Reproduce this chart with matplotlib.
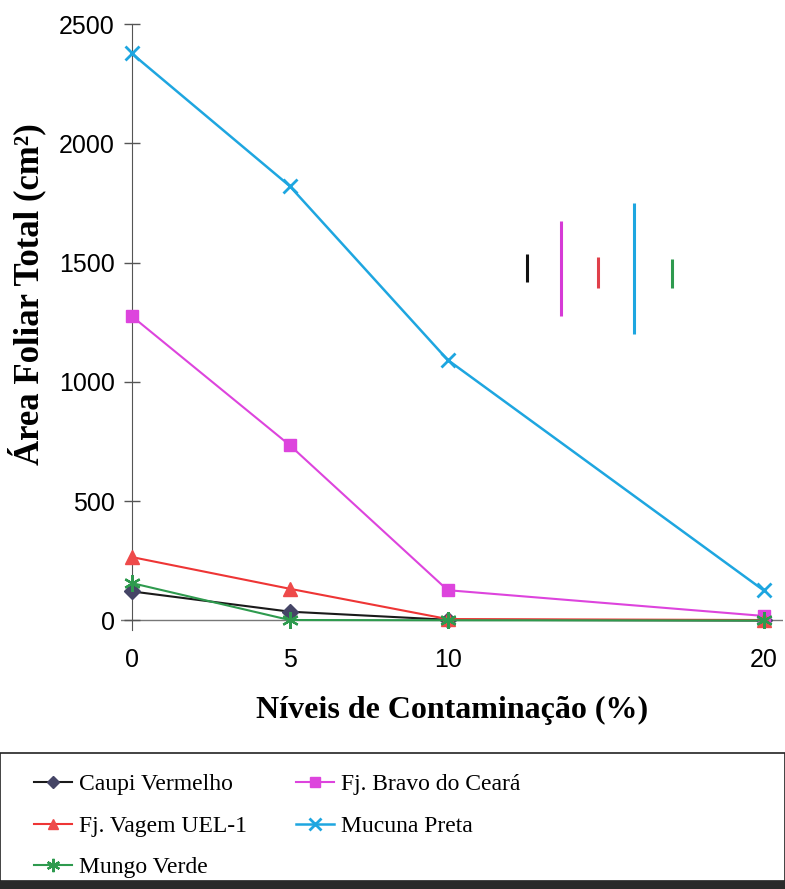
import matplotlib.pyplot as plt
from matplotlib.patches import Rectangle

# contamination levels (%)
niveis = [0, 5, 10, 20]

# total leaf area (cm2) per cultivar
caupi_vermelho = [122, 37, 3, 0]
fj_bravo = [1276, 735, 127, 19]
fj_vagem = [266, 133, 6, 2]
mucuna_preta = [2377, 1821, 1092, 126]
mungo_verde = [157, 2, 1, 0]

# LSD bars drawn inside the plot
lsd_x = [12.51, 13.6, 14.74, 15.89, 17.1]
lsd_low = [1418, 1275, 1395, 1200, 1395]
lsd_high = [1534, 1674, 1523, 1749, 1513]
lsd_colors = ['#111111', '#d63ad6', '#e0404a', '#1ea6e0', '#2e9a4e']

fig = plt.figure(figsize=(7.85, 8.89), dpi=100)
ax = fig.add_axes([0.1536, 0.2913, 0.8435, 0.6817])

ax.plot(niveis, caupi_vermelho, color='#1a1a1a', lw=1.5, marker='D', ms=8,
        mfc='#454566', mec='#454566', label='Caupi Vermelho', zorder=3)
ax.plot(niveis, fj_bravo, color='#dd44dd', lw=1.5, marker='s', ms=8.5,
        mfc='#dd44dd', mec='#dd44dd', label='Fj. Bravo do Ceará', zorder=3)
ax.plot(niveis, fj_vagem, color='#ee3535', lw=1.5, marker='^', ms=9.5,
        mfc='#ee4a4a', mec='#ee4a4a', label='Fj. Vagem UEL-1', zorder=3)
ax.plot(niveis, mucuna_preta, color='#1ea6e0', lw=1.8, marker='x', ms=10,
        mew=2, label='Mucuna Preta', zorder=3)
ax.plot(niveis, mungo_verde, color='#2e9a4e', lw=1.5, marker=(6, 2, 0), ms=12,
        mew=1.6, label='Mungo Verde', zorder=3)

ax.vlines(lsd_x, lsd_low, lsd_high, colors=lsd_colors, lw=2.2)

ax.set_xlim(-0.35, 20.6)
ax.set_ylim(-40, 2500)
ax.axhline(0, color='#777777', lw=1, zorder=1)

for s in ['top', 'right', 'bottom']:
    ax.spines[s].set_visible(False)
ax.spines['left'].set_position(('data', 0))
ax.spines['left'].set_color('#555555')

ax.set_xticks(niveis)
ax.set_yticks([0, 500, 1000, 1500, 2000, 2500])
ax.tick_params(axis='x', length=0, pad=13, labelsize=18)
ax.tick_params(axis='y', direction='inout', length=12, width=1, color='#555555', pad=6, labelsize=18)
for lab in ax.get_xticklabels() + ax.get_yticklabels():
    lab.set_family('Liberation Sans')

ax.set_xlabel('Níveis de Contaminação (%)', family='Liberation Serif', fontweight='bold', fontsize=23)
ax.set_ylabel('Área Foliar Total (cm²)', family='Liberation Serif', fontweight='bold', fontsize=25)
ax.xaxis.set_label_coords(0.5, -0.108)
ax.yaxis.set_label_coords(-0.112, 0.554)

# legend box across the bottom
fig.patches.append(Rectangle((0.0, 0.0085), 1.0, 0.145, transform=fig.transFigure,
                             fill=False, edgecolor='#222222', lw=1.2))
fig.patches.append(Rectangle((0.0, 0.0), 1.0, 0.0085, transform=fig.transFigure,
                             color='#2a2a2a', lw=0))

handles, labels = ax.get_legend_handles_labels()
order = [0, 2, 4, 1, 3]
fig.legend([handles[i] for i in order], [labels[i] for i in order],
           loc='upper left', bbox_to_anchor=(0.037, 0.135), ncol=2, frameon=False,
           prop={'family': 'Liberation Serif', 'size': 17},
           handlelength=1.6, handletextpad=0.3, columnspacing=2.1,
           labelspacing=0.85, borderaxespad=0, borderpad=0.2, markerscale=0.8)

fig.savefig('out.png', dpi=100, facecolor='white')
